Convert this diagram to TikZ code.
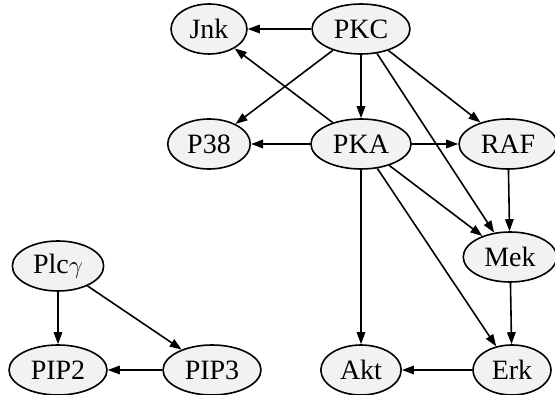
\documentclass[tikz,border=0pt]{standalone}
\usepackage{fontspec}
\setmainfont{Liberation Serif}
\usetikzlibrary{shapes.geometric,arrows.meta}

\begin{document}
\begin{tikzpicture}[x=1pt, y=-1pt, line width=1.6pt, >={Triangle[length=12pt,width=8.5pt]},
    every node/.style={ellipse, draw, fill=gray!10, font=\fontsize{28}{33}\selectfont,
      inner xsep=7.4pt, inner ysep=0pt, minimum height=50pt}]
    \useasboundingbox (0,0) rectangle (555,395);
    % signalling network
    \node (jnk) at (209,29) {Jnk};
    \node (pkc) at (361,29) {PKC};
    \node (p38) at (209,144) {P38};
    \node (pka) at (361,144) {PKA};
    \node (raf) at (508,144) {RAF};
    \node (mek) at (510,257) {Mek};
    \node (akt) at (361,370) {Akt};
    \node (erk) at (512,370) {Erk};
    % phospholipid part
    \node (plc) at (58,266) {Plc$\gamma$};
    \node (pip2) at (58,370) {PIP2};
    \node (pip3) at (212,370) {PIP3};

    \draw[->] (pkc) -- (jnk);
    \draw[->] (pkc) -- (p38);
    \draw[->] (pkc) -- (pka);
    \draw[->] (pkc) -- (raf);
    \draw[->] (pkc) -- (mek);
    \draw[->] (pka) -- (jnk);
    \draw[->] (pka) -- (p38);
    \draw[->] (pka) -- (raf);
    \draw[->] (pka) -- (mek);
    \draw[->] (pka) -- (erk);
    \draw[->] (pka) -- (akt);
    \draw[->] (raf) -- (mek);
    \draw[->] (mek) -- (erk);
    \draw[->] (erk) -- (akt);
    \draw[->] (plc) -- (pip2);
    \draw[->] (plc) -- (pip3);
    \draw[->] (pip3) -- (pip2);
\end{tikzpicture}
\end{document}
